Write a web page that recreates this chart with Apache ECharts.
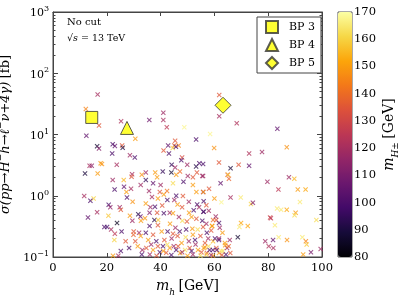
<!DOCTYPE html>
<html><head><meta charset="utf-8">
<script src="https://cdn.jsdelivr.net/npm/echarts@6/dist/echarts.min.js"></script>
<style>html,body{margin:0;padding:0;background:#fff}#c{width:399px;height:296px}</style>
</head><body><div id="c"></div>
<script>
// m_h [GeV]
const mh = [16.6,12.2,17.1,12.4,25.3,35.8,41.0,41.0,42.3,48.8,30.6,53.2,45.4,16.4,17.1,22.2,23.0,25.7,25.9,42.8,45.1,46.7,44.5,45.7,41.1,61.8,61.8,68.3,83.4,58.4,59.9,86.9,43.1,48.0,47.7,49.9,44.1,45.4,53.2,54.4,61.7,66.0,77.7,72.9,69.0,72.9,22.0,28.6,30.4,13.6,14.4,17.7,18.2,23.7,
11.9,16.6,22.2,22.9,26.3,26.4,29.0,29.4,29.2,33.0,32.6,27.3,29.6,27.5,11.6,15.1,13.9,16.4,13.0,20.7,21.3,24.8,25.2,20.6,23.8,28.6,29.5,31.7,32.5,32.7,19.1,20.1,21.6,25.5,23.0,22.8,30.0,29.9,32.0,32.6,27.0,30.6,28.3,25.2,31.5,33.2,33.0,22.3,24.3,
34.5,38.0,40.8,44.0,45.8,47.2,50.1,52.0,53.5,55.5,64.9,34.5,37.2,38.7,44.6,62.3,65.4,35.7,39.7,41.2,42.4,45.1,46.3,45.8,48.3,53.3,55.8,56.0,53.6,62.6,34.5,36.2,37.9,40.6,35.9,38.7,41.2,43.4,44.6,50.6,52.3,54.3,56.0,34.2,37.7,39.1,48.1,49.8,53.3,55.5,57.0,59.1,60.7,35.9,39.0,40.4,42.6,44.6,47.1,51.8,53.8,55.8,34.5,37.2,35.4,38.4,41.4,44.1,46.3,49.3,52.0,54.8,57.7,59.5,61.7,63.9,65.7,34.7,37.2,39.7,42.1,43.4,45.8,47.3,49.1,50.8,52.0,53.9,54.8,56.0,57.2,58.2,59.5,60.7,61.7,63.2,64.7,65.9,44.9,40.9,
65.1,55.8,55.8,79.7,83.8,87.7,89.7,91.0,93.9,66.0,69.8,73.6,74.3,91.8,83.3,84.8,86.9,90.2,89.8,80.7,81.0,97.9,82.5,69.9,69.3,72.4,68.7,78.9,81.8,83.9,87.0,92.7,94.0,94.3,80.2,81.9,95.9,93.0,61.7,65.3,64.0,60.2,60.9,62.5,59.4,56.5,57.0,59.2,59.5,55.9,57.9,60.5,61.7,62.0,55.9,99.5,
36.0,38.5,41.0,44.0,46.5,48.0,50.0,51.5,53.0,55.2,57.8,58.8,62.8,64.3,47.8,50.5,52.8,56.5,42.5,39.0,36.5,45.5,49.5,43.5,46.8,51.5,57.2,58.8,63.0,48.0,50.5,42.5,39.0,52.0,48.5,58.0,60.0,57.0,36.8,40.0];
// sigma [fb]
const sigma = [45,26,14,9.5,16.4,17.3,22.7,17.3,13.1,13.1,8.5,8.3,7.9,6.4,5.9,6.9,6.5,6.6,6.1,6.6,6.6,6.6,6.0,6.3,5.5,44,19.8,15.2,12.4,10.2,6.0,6.2,4.9,4.2,3.8,3.2,3.2,2.9,3.0,3.4,3.5,2.8,5.2,4.9,3.2,3.1,4.9,4.6,4.2,3.1,3.1,3.4,3.3,3.2,
2.3,2.3,1.8,1.26,1.8,1.4,1.3,2.25,2.05,2.2,1.5,1.15,0.8,0.94,0.99,0.9,0.83,0.54,0.44,0.71,0.65,0.65,0.59,0.47,0.36,0.47,0.39,0.5,0.46,0.39,0.31,0.31,0.28,0.26,0.24,0.19,0.26,0.23,0.25,0.22,0.18,0.18,0.14,0.125,0.15,0.13,0.11,0.105,0.105,
2.4,2.4,2.5,2.4,2.2,2.5,2.1,2.0,2.4,2.1,2.2,1.8,1.6,2.0,1.6,1.6,1.9,1.2,1.15,1.05,1.2,0.85,0.72,1.0,0.99,1.15,1.15,0.81,0.72,0.78,0.75,0.65,0.66,0.69,0.53,0.53,0.52,0.53,0.52,0.53,0.58,0.65,0.55,0.43,0.40,0.40,0.39,0.38,0.42,0.39,0.35,0.32,0.40,0.32,0.33,0.26,0.26,0.24,0.26,0.29,0.28,0.31,0.25,0.23,0.19,0.18,0.19,0.20,0.22,0.21,0.23,0.22,0.20,0.18,0.20,0.17,0.19,0.14,0.13,0.12,0.117,0.14,0.13,0.116,0.13,0.14,0.11,0.13,0.105,0.14,0.116,0.13,0.105,0.14,0.116,0.125,0.14,0.116,0.15,0.15,
2.2,3.3,2.1,1.7,1.26,2.0,1.9,1.26,1.27,0.94,0.94,0.73,0.77,0.79,0.62,0.59,0.59,0.53,0.48,0.44,0.43,0.40,0.33,0.36,0.31,0.32,0.21,0.18,0.19,0.21,0.19,0.21,0.18,0.16,0.15,0.14,0.12,0.11,0.19,0.15,0.155,0.20,0.13,0.125,0.13,0.144,0.11,0.32,0.40,1.15,0.57,0.46,0.36,0.30,0.55,0.135,
0.11,0.105,0.125,0.108,0.15,0.12,0.105,0.125,0.16,0.12,0.15,0.108,0.108,0.11,0.17,0.18,0.19,0.17,0.16,0.15,0.16,0.30,0.28,0.35,0.45,0.45,0.25,0.27,0.25,0.65,0.80,0.85,0.90,1.5,1.7,1.3,0.9,0.7,0.95,1.5];
// m_H± [GeV]
const mHc = [120,145,135,105,122,108,118,120,125,168,150,100,135,88,112,100,105,135,90,105,138,145,160,100,135,135,120,122,105,168,148,148,100,132,100,118,95,118,92,100,135,90,118,122,135,105,100,118,100,120,115,150,148,120,
90,150,118,100,155,105,120,120,135,148,118,150,148,100,120,160,100,120,105,100,115,118,135,158,85,150,118,92,105,150,100,98,120,100,125,160,135,138,118,150,135,135,100,100,150,118,100,150,120,
118,150,95,88,150,140,118,135,135,118,135,95,105,150,162,105,138,118,135,150,142,118,150,100,135,150,118,100,100,168,150,118,100,135,112,135,100,118,150,150,100,118,100,150,92,158,162,135,135,100,118,150,135,100,135,150,100,135,100,150,162,135,100,135,150,100,135,118,135,162,150,135,118,155,118,150,118,135,150,100,135,150,100,150,162,135,118,150,162,150,135,100,150,135,150,162,118,135,118,100,
158,100,118,118,125,118,155,150,152,120,165,160,112,165,165,165,152,150,162,130,125,162,165,152,165,152,88,118,105,165,148,165,145,158,122,120,110,150,100,138,150,100,100,165,100,150,158,150,140,150,118,118,100,118,100,118,
118,135,150,100,135,118,150,100,118,135,162,118,135,100,150,118,100,135,162,135,118,118,100,150,118,150,100,135,150,135,118,100,150,150,100,135,150,135,120,118];

const bpNames = ['BP 3','BP 4','BP 5'];
const bpMh = [14.4, 27.5, 63.2];
const bpSigma = [19, 12.8, 30];

const xTicks = [0,20,40,60,80,100];
const yTicks = [0.1,1,10,100,1000];
const cbTicks = [80,90,100,110,120,130,140,150,160,170];

const SERIF = 'DejaVu Serif';
const inferno = ['#000004','#160b39','#420a68','#6a176e','#932667','#bc3754','#dd513a','#f37819','#fca50a','#f6d746','#fcffa4'];

const minorVals = [];
for (let e = -1; e < 3; e++) for (let k = 2; k <= 9; k++) minorVals.push(Math.log10(k * Math.pow(10, e)));

const pts = mh.map((x, i) => [x, sigma[i], mHc[i]]);
const xPath = 'path://M0,1.5L1.5,0L5,3.5L8.5,0L10,1.5L6.5,5L10,8.5L8.5,10L5,6.5L1.5,10L0,8.5L3.5,5Z';

const supFmt = v => { const e = Math.round(Math.log10(v)); return '{b|10}{e|' + (e < 0 ? '\u2212' + (-e) : e) + '}'; };
const logRich = { b: {fontFamily: SERIF, fontSize: 11, color: '#000', lineHeight: 14, verticalAlign: 'bottom'}, e: {fontFamily: SERIF, fontSize: 8, color: '#000', lineHeight: 14, verticalAlign: 'top'} };

const frame = {onZero: false, lineStyle: {color: '#444', width: 1}};
const majX = {inside: true, length: 4, lineStyle: {color: '#444'}};

const chart = echarts.init(document.getElementById('c'), null, {renderer: 'canvas'});
chart.setOption({
  animation: false,
  backgroundColor: '#fff',
  grid: [
    {left: 53, right: 77, top: 12, bottom: 39, show: true, borderColor: '#444', borderWidth: 1, containLabel: false, outerBoundsMode: 'none'},
    {left: 338, width: 14, top: 12, height: 245, show: true, borderColor: '#555', borderWidth: 1, containLabel: false, outerBoundsMode: 'none'}
  ],
  xAxis: [
    {type: 'value', gridIndex: 0, min: 0, max: 100, interval: 20, position: 'bottom',
     axisLine: frame, axisTick: majX, splitLine: {show: false},
     axisLabel: {fontFamily: SERIF, fontSize: 11.5, color: '#000', margin: 5, customValues: xTicks},
     name: '{m|m}{s|h} {r|[GeV]}', nameLocation: 'middle', nameGap: 20,
     nameTextStyle: {rich: {m: {fontFamily: SERIF, fontStyle: 'italic', fontSize: 14, color: '#000', lineHeight: 18, verticalAlign: 'top'}, s: {fontFamily: SERIF, fontStyle: 'italic', fontSize: 9, color: '#000', lineHeight: 18, verticalAlign: 'bottom'}, r: {fontFamily: SERIF, fontSize: 14, color: '#000', lineHeight: 18, verticalAlign: 'top'}}}},
    {type: 'value', gridIndex: 0, min: 0, max: 100, interval: 20, position: 'top',
     axisLine: frame, axisTick: majX, axisLabel: {show: false}, splitLine: {show: false}},
    {type: 'value', gridIndex: 1, min: 0, max: 1, show: false, axisLine: {onZero: false}}
  ],
  yAxis: [
    {type: 'log', logBase: 10, gridIndex: 0, min: 0.1, max: 1000, position: 'left',
     axisLine: frame, axisTick: {inside: true, length: 5, lineStyle: {color: '#444'}}, splitLine: {show: false}, minorTick: {show: false},
     axisLabel: {formatter: supFmt, rich: logRich, margin: 4},
     name: '{m|\u03c3(pp\u2192H}{s|\u00b1}{m|h\u2192\u2113}{s|\u00b1}{m|\u03bd+4\u03b3)} {r|[fb]}', nameLocation: 'middle', nameGap: 28, nameRotate: 90,
     nameTextStyle: {rich: {m: {fontFamily: SERIF, fontStyle: 'italic', fontSize: 13, color: '#000', lineHeight: 18, verticalAlign: 'bottom'}, s: {fontFamily: SERIF, fontSize: 9, color: '#000', lineHeight: 18, verticalAlign: 'top'}, r: {fontFamily: SERIF, fontSize: 13, color: '#000', lineHeight: 18, verticalAlign: 'bottom'}}}},
    {type: 'value', gridIndex: 0, min: -1, max: 3, position: 'left', axisLine: {show: false, onZero: false}, splitLine: {show: false},
     axisTick: {inside: true, length: 2.5, lineStyle: {color: '#444'}, customValues: minorVals}, axisLabel: {show: false}},
    {type: 'log', logBase: 10, gridIndex: 0, min: 0.1, max: 1000, position: 'right',
     axisLine: frame, axisTick: {inside: true, length: 5, lineStyle: {color: '#444'}}, splitLine: {show: false}, axisLabel: {show: false}},
    {type: 'value', gridIndex: 0, min: -1, max: 3, position: 'right', axisLine: {show: false, onZero: false}, splitLine: {show: false},
     axisTick: {inside: true, length: 2.5, lineStyle: {color: '#444'}, customValues: minorVals}, axisLabel: {show: false}},
    {type: 'value', gridIndex: 1, min: 80, max: 170, interval: 10, position: 'right',
     axisLine: {show: false, onZero: false}, splitLine: {show: false}, axisTick: {show: false},
     axisLabel: {fontFamily: SERIF, fontSize: 11.5, color: '#000', margin: 2, customValues: cbTicks},
     name: '{m|m}{s|H\u00b1} {r|[GeV]}', nameLocation: 'middle', nameGap: 30, nameRotate: 90,
     nameTextStyle: {rich: {m: {fontFamily: SERIF, fontStyle: 'italic', fontSize: 14, color: '#000', lineHeight: 18, verticalAlign: 'top'}, s: {fontFamily: SERIF, fontStyle: 'italic', fontSize: 9, color: '#000', lineHeight: 18, verticalAlign: 'bottom'}, r: {fontFamily: SERIF, fontSize: 14, color: '#000', lineHeight: 18, verticalAlign: 'top'}}}}
  ],
  visualMap: {
    type: 'continuous', min: 80, max: 170, dimension: 2, seriesIndex: 0,
    left: 338, top: 12, itemWidth: 14, itemHeight: 245, padding: 0,
    calculable: false, text: null, inRange: {color: inferno}
  },
  legend: {
    data: bpNames, orient: 'vertical', left: 257, top: 17, padding: [3, 6, 3, 8], itemGap: 4,
    itemWidth: 12, itemHeight: 12, borderColor: '#444', borderWidth: 1, backgroundColor: '#fff',
    textStyle: {fontFamily: SERIF, fontSize: 11, color: '#000', lineHeight: 12, padding: [0, 0, 0, 6]}
  },
  graphic: [
    {type: 'text', left: 67, top: 17, style: {text: 'No cut', font: '10px "DejaVu Serif"', fill: '#000'}},
    {type: 'text', left: 67, top: 34, style: {text: '{r|\u221a}{i|s}{r| = 13 TeV}', rich: {r: {fontFamily: SERIF, fontSize: 9.5, fill: '#000'}, i: {fontFamily: SERIF, fontStyle: 'italic', fontSize: 9.5, fill: '#000'}}}}
  ],
  series: [
    {type: 'scatter', xAxisIndex: 0, yAxisIndex: 0, data: pts, symbol: xPath, symbolSize: 5, itemStyle: {opacity: 0.75}, z: 2},
    {type: 'scatter', name: bpNames[0], xAxisIndex: 0, yAxisIndex: 0, data: [[bpMh[0], bpSigma[0]]], symbol: 'rect', symbolSize: 12, itemStyle: {color: '#ffff00', borderColor: '#333', borderWidth: 1}, z: 5},
    {type: 'scatter', name: bpNames[1], xAxisIndex: 0, yAxisIndex: 0, data: [[bpMh[1], bpSigma[1]]], symbol: 'triangle', symbolSize: 13, itemStyle: {color: '#ffff00', borderColor: '#333', borderWidth: 1}, z: 5},
    {type: 'scatter', name: bpNames[2], xAxisIndex: 0, yAxisIndex: 0, data: [[bpMh[2], bpSigma[2]]], symbol: 'diamond', symbolSize: 16, itemStyle: {color: '#ffff00', borderColor: '#333', borderWidth: 1}, z: 5}
  ]
});
</script></body></html>
